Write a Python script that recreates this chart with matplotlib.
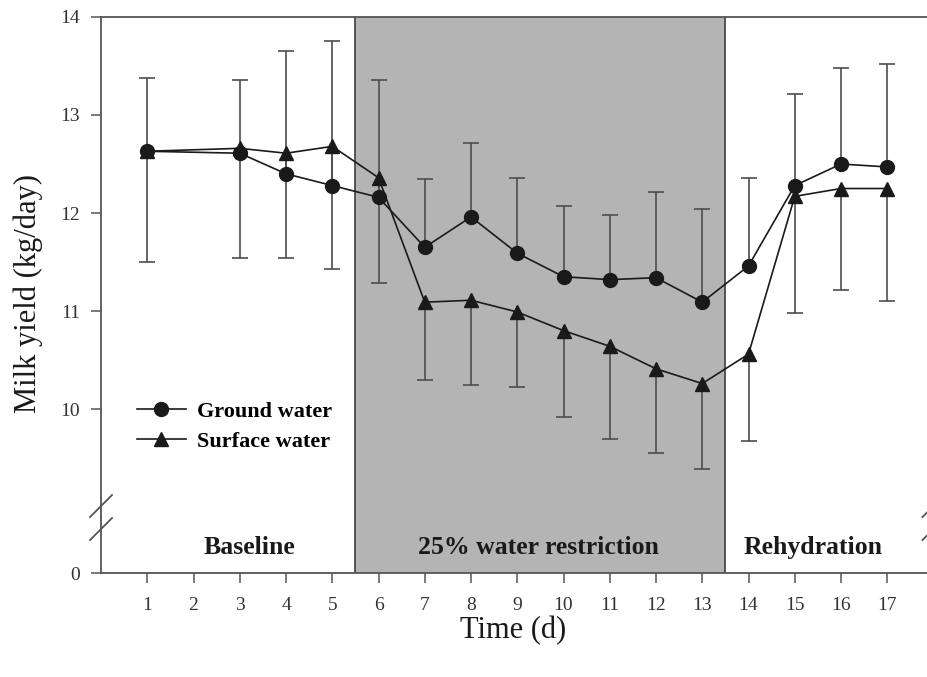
import matplotlib.pyplot as plt

# days with measurements (no value on day 2)
days = [1, 3, 4, 5, 6, 7, 8, 9, 10, 11, 12, 13, 14, 15, 16, 17]
ground = [12.63, 12.61, 12.40, 12.28, 12.16, 11.65, 11.96, 11.59,
          11.35, 11.32, 11.34, 11.09, 11.46, 12.28, 12.50, 12.47]
ground_upper = [13.38, 13.36, 13.65, 13.75, 13.36, 12.35, 12.71, 12.36,
                12.07, 11.98, 12.21, 12.04, 12.36, 13.21, 13.48, 13.52]
surface = [12.63, 12.66, 12.61, 12.68, 12.36, 11.09, 11.11, 10.99,
           10.80, 10.64, 10.41, 10.26, 10.56, 12.17, 12.25, 12.25]
surface_lower = [11.50, 11.54, 11.54, 11.43, 11.29, 10.30, 10.25, 10.22,
                 9.92, 9.69, 9.55, 9.39, 9.67, 10.98, 11.21, 11.10]

phases = ["Baseline", "25% water restriction", "Rehydration"]
phase_x = [3.2, 9.45, 15.4]
restriction = (5.5, 13.5)
xticks = list(range(1, 18))

plt.rcParams['font.family'] = ['Liberation Serif', 'DejaVu Serif']

spine_c = '#555555'
fig = plt.figure(figsize=(9.27, 6.77), dpi=100)
left, width = 0.109, 0.898
ax = fig.add_axes([left, 0.2363, width, 0.7386])
axb = fig.add_axes([left, 0.1536, width, 0.0827])

for a in (ax, axb):
    a.set_xlim(0, 18)
    a.axvspan(restriction[0], restriction[1], facecolor='#b4b4b4',
              edgecolor='none', zorder=0)
    for xv in restriction:
        a.axvline(xv, color='#4a4a4a', lw=1.3, zorder=1)
    a.spines['right'].set_visible(False)
    for s in a.spines.values():
        s.set_color(spine_c)
        s.set_linewidth(1.3)
    a.tick_params(direction='out', length=7, width=1.1, colors=spine_c,
                  labelcolor='#333333', labelsize=14)
    a.tick_params(axis='x', pad=10)
    a.tick_params(axis='y', pad=8)

ax.spines['bottom'].set_visible(False)
axb.spines['top'].set_visible(False)
ax.tick_params(axis='x', bottom=False, labelbottom=False)
ax.set_ylim(8.898, 14)
ax.set_yticks([10, 11, 12, 13, 14])
axb.set_ylim(0, 1)
axb.set_yticks([0])
axb.set_xticks(xticks)

# one-sided error bars: ground water upward, surface water downward
err_c = '#4d4d4d'
ax.vlines(days, ground, ground_upper, color=err_c, lw=1.2, zorder=2)
ax.plot(days, ground_upper, ls='none', marker='_', ms=12, mew=1.2,
        color=err_c, zorder=2)
ax.vlines(days, surface_lower, surface, color=err_c, lw=1.2, zorder=2)
ax.plot(days, surface_lower, ls='none', marker='_', ms=12, mew=1.2,
        color=err_c, zorder=2)

ax.plot(days, ground, '-o', color='#1a1a1a', lw=1.2, ms=10,
        label='Ground water', zorder=3)
ax.plot(days, surface, '-^', color='#1a1a1a', lw=1.2, ms=10.5,
        label='Surface water', zorder=3)

ax.legend(loc='upper left', bbox_to_anchor=(0.043, 0.232), frameon=False,
          prop={'weight': 'bold', 'size': 16}, handlelength=2.2,
          handletextpad=0.5, borderpad=0, borderaxespad=0, labelspacing=0.45)

for label, xp in zip(phases, phase_x):
    axb.text(xp, 0.45, label, ha='center', va='center', fontsize=18.5,
             fontweight='bold', color='#1a1a1a')

# axis break marks
brk = dict(transform=axb.transAxes, color=spine_c, lw=1.3, clip_on=False)
for xc in (0, 1):
    axb.plot([xc - 0.0132, xc + 0.0132], [1.0, 1.393], **brk)
    axb.plot([xc - 0.0132, xc + 0.0132], [0.589, 0.982], **brk)

fig.text(0.031, 0.566, 'Milk yield (kg/day)', rotation=90, fontsize=22,
         ha='center', va='center', color='#1a1a1a')
fig.text(0.553, 0.068, 'Time (d)', fontsize=22, ha='center', va='center',
         color='#1a1a1a')

fig.savefig('out.png', dpi=100)
